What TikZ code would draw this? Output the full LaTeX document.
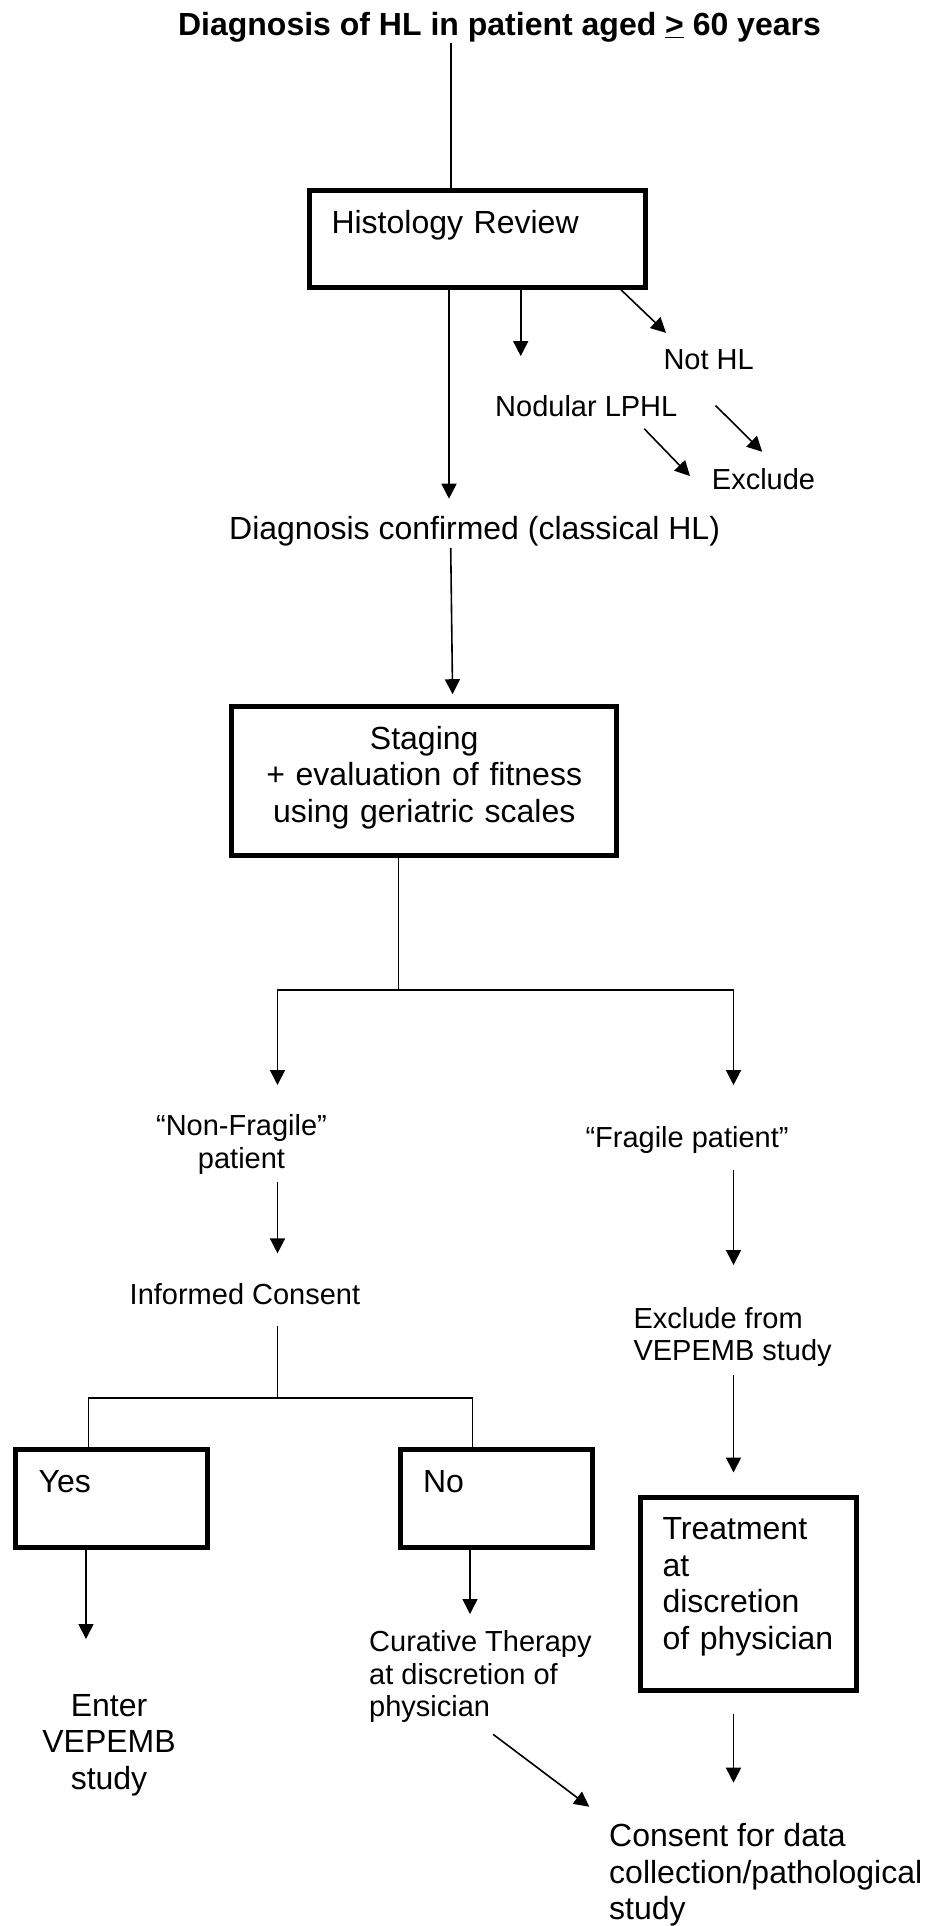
\documentclass[tikz,border=0pt]{standalone}
\usepackage{fontspec}
\setmainfont{Liberation Sans}
\usetikzlibrary{arrows.meta, calc}

\begin{document}
\begin{tikzpicture}[
    x=1pt, y=-1pt,
    bigtxt/.style={font=\fontsize{32}{36.5}\selectfont},
    smalltxt/.style={font=\fontsize{29}{32.5}\selectfont},
    lbl/.style={inner sep=0pt, align=#1},
    lbl/.default=left,
    boxed/.style={draw, line width=5pt, inner ysep=0pt, inner xsep=22.5pt, align=left, anchor=north west, bigtxt},
    arr/.style={-{Triangle[length=15pt, width=15pt]}, line width=1.6pt},
    ln/.style={line width=1.6pt}
]
    \useasboundingbox (0,0) rectangle (926,1926);

    % histology
    \node[lbl, bigtxt, anchor=base] (title) at (499.5,36) {\bfseries Diagnosis of HL in patient aged \underline{>} 60 years};
    \node[boxed, text width=291pt, text height=42.5pt, text depth=53.8pt] (hr) at (306.5,188.5) {Histology Review};
    \node[lbl, smalltxt, anchor=base west] (nothl)   at (663.3,369) {Not HL};
    \node[lbl, smalltxt, anchor=base west] (nodular) at (495,416.7) {Nodular LPHL};
    \node[lbl, smalltxt, anchor=base west] (excl)    at (711.7,489) {Exclude};
    \node[lbl, bigtxt, anchor=base west]   (conf)    at (229,539.5) {Diagnosis confirmed (classical HL)};

    % staging and split
    \node[boxed, align=center, inner xsep=0pt, text width=385pt, text height=42.5pt, text depth=106.5pt] (stg) at (229.2,704.2) {Staging\\+ evaluation of fitness\\using geriatric scales};
    \coordinate (lcol)   at (277.5,0);
    \coordinate (rcol)   at (733.5,0);
    \coordinate (split)  at (398.3,990);
    \coordinate (nsplit) at (277.5,1398);

    \node[lbl=center, smalltxt, anchor=north] (nonfrag)   at (241.5,1114.7) {“Non-Fragile”\\patient};
    \node[lbl, smalltxt, anchor=base west]   (frag)       at (585.3,1147.3) {“Fragile patient”};
    \node[lbl, smalltxt, anchor=base west]   (consentinf) at (129.5,1304) {Informed Consent};
    \node[lbl, smalltxt, anchor=north west]  (exclfrom)   at (633.3,1307) {Exclude from\\VEPEMB study};

    % bottom boxes
    \node[boxed, text width=146pt, inner xsep=23pt, text height=43.5pt, text depth=54.5pt] (yes) at (13.2,1446.5) {Yes};
    \node[boxed, text width=146pt, inner xsep=23pt, text height=43.5pt, text depth=54.5pt] (no)  at (397.5,1446.5) {No};
    \node[boxed, text width=171pt, text height=42.8pt, text depth=150.2pt] (trt) at (637.5,1494.5) {Treatment\\at\\discretion\\of physician};

    \node[lbl=center, bigtxt, anchor=north]    (enter)    at (109,1693.8) {Enter\\VEPEMB\\study};
    \node[lbl, smalltxt, anchor=north west]    (cur)      at (369,1630.4) {Curative Therapy\\at discretion of\\physician};
    \node[lbl, bigtxt, anchor=north west]      (datacons) at (609,1823.2) {Consent for data\\collection/pathological\\study};

    % connectors
    \draw[ln] (title.south -| 451,0) -- (hr.north -| 451,0);
    \draw[arr, shorten >=17.4pt] (hr.south -| 449,0) -- (conf.north -| 449,0);
    \draw[arr, shorten >=39.4pt] (hr.south -| 520.7,0) -- (nodular.north -| 520.7,0);
    \draw[arr] (hr.south -| 621,0) -- ($(nothl.north west)+(2.7,-16)$);
    \draw[arr] ($(nodular.south east)+(-33.3,11.6)$) -- ($(excl.north west)+(-21.7,8.3)$);
    \draw[arr] ($(nothl.south)+(6.9,36)$) -- ($(excl.north)+(-1.3,-16)$);
    \draw[arr, shorten <=1.6pt, shorten >=10pt] (conf.south -| 450.7,0) -- (stg.north -| 452.7,0);

    \draw[ln] (stg.south -| split) -- (split);
    \draw[arr, shorten >=29.7pt] (split) -| (nonfrag.north -| lcol);
    \draw[arr, shorten >=41pt] (split) -| (frag.north -| rcol);
    \draw[arr, shorten <=7.6pt, shorten >=29.4pt] (nonfrag.south -| lcol) -- (consentinf.north -| lcol);
    \draw[ln, shorten <=22pt] (consentinf.south -| lcol) -- (nsplit);
    \draw[ln] (nsplit) -| ($(yes.north)+(-23.4,0)$);
    \draw[ln] (nsplit) -| ($(no.north)+(-23.5,0)$);
    \draw[arr, shorten <=16.6pt, shorten >=42pt] (frag.south -| rcol) -- (exclfrom.north -| rcol);
    \draw[arr, shorten <=8.2pt, shorten >=22pt] (exclfrom.south -| rcol) -- (trt.north -| rcol);

    \draw[arr, shorten >=54.8pt] (yes.south -| 86,0) -- (enter.north -| 86,0);
    \draw[arr, shorten >=16.4pt] (no.south -| 470,0) -- (cur.north -| 470,0);
    \draw[arr, shorten <=21pt, shorten >=40.5pt] (trt.south -| rcol) -- (datacons.north -| rcol);
    \draw[arr] ($(cur.south)+(12.7,11.5)$) -- ($(datacons.north west)+(-19.7,-16.5)$);
\end{tikzpicture}
\end{document}
